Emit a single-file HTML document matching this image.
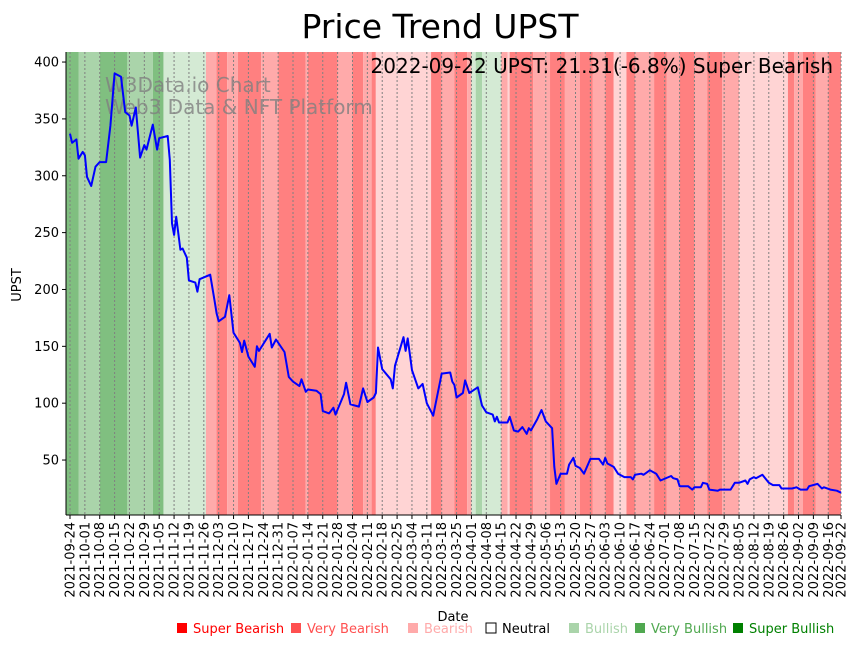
<!DOCTYPE html>
<html><head><meta charset="utf-8"><style>
body{margin:0;background:#fff;}
svg{display:block;font-family:"DejaVu Sans","Liberation Sans",sans-serif;}
</style></head><body>
<svg id="chart" width="859" height="646" viewBox="0 0 859 646">
<text x="440" y="38" text-anchor="middle" font-size="33" fill="#000">Price Trend UPST</text>
<g id="bands"></g>
<g id="grid"></g>
<text x="105" y="92" font-size="20" fill="#808080" fill-opacity="0.8">W3Data.io Chart</text>
<text x="105" y="114" font-size="20" fill="#808080" fill-opacity="0.8">Web3 Data &amp; NFT Platform</text>
<path id="line" fill="none" stroke="#0000ff" stroke-width="2" stroke-linejoin="round"/>
<text x="833" y="73" text-anchor="end" font-size="20" fill="#000">2022-09-22 UPST: 21.31(-6.8%) Super Bearish</text>
<g id="yaxis"></g>
<g id="xaxis"></g>
<line x1="66" y1="52" x2="66" y2="515" stroke="#000" stroke-width="1"/>
<line x1="66" y1="515" x2="841" y2="515" stroke="#000" stroke-width="1"/>
<text transform="translate(21,285) rotate(-90)" text-anchor="middle" font-size="13">UPST</text>
<text x="453" y="621" text-anchor="middle" font-size="13">Date</text>
<g id="legend"></g>
</svg>
<script>
// price data: day offsets since 2021-09-24 and prices
const days=[0,1,3,4,6,7,8,10,12,14,17,19,21,24,26,28,29,31,33,35,36,39,41,42,46,47,48,49,50,52,53,55,56,59,60,61,66,68,69,70,73,75,77,80,81,82,84,87,88,89,94,95,97,101,103,105,108,109,111,112,116,118,119,122,124,125,129,130,132,136,138,140,143,144,145,147,151,152,153,157,158,159,161,164,166,168,171,175,179,180,181,182,185,186,188,192,194,196,199,200,201,202,206,207,209,211,213,215,216,217,220,222,224,227,228,229,231,234,235,237,238,240,242,245,249,251,252,253,256,258,261,264,265,266,269,270,273,276,278,283,284,286,287,291,293,294,297,298,300,301,305,306,311,313,315,318,319,320,322,323,326,329,331,334,335,340,342,344,347,348,352,354,355,358,361,363];
const prices=[337,329,332,315,321,318,299,291,308,312,312,344,390,387,356,353,344,360,316,327,323,345,323,333,335,314,258,248,264,235,236,228,208,206,198,209,213,191,179,172,176,195,162,153,145,155,141,132,150,146,161,149,156,145,123,119,115,121,110,112,111,108,93,91,96,90,108,118,99,97,113,101,105,109,149,130,121,113,133,158,146,157,129,113,117,100,89,126,127,119,116,105,109,120,109,114,98,92,90,84,88,83,83,88,76,75,79,73,78,76,86,94,84,78,44,29,38,38,46,52,45,43,38,51,51,46,52,47,44,38,35,35,33,37,38,37,41,38,32,36,34,33,27,27,24,26,26,30,29,24,23,24,24,30,30,32,29,33,35,34,37,30,28,28,25,25,26,24,24,27,29,25,26,24,23,21.31];
// sentiment bands: start day and level
const bandStarts=[-2,4,14,27,39,44,64,69,74,79,90,98,111,112,126,133,138,142,144,170,175,181,187,189,191,194,203,206,207,218,226,233,240,246,252,256,262,266,275,281,287,294,300,307,315,338,341,345,351,357];
const bandLevels=[2,1,2,1,2,0.5,-2,-3,-2,-3,-2,-3,-2,-3,-2,-3,-2,-3,-1,-3,-2,-3,-2,0.5,1,0.5,-2,-1,-3,-2,-3,-2,-3,-2,-3,-1,-3,-2,-3,-2,-3,-2,-3,-2,-1,-3,-2,-3,-2,-3];
const bandEnd=363;
const yTicks=[50,100,150,200,250,300,350,400];
const startDate=new Date(Date.UTC(2021,8,24));
const tickDays=[];for(let d=0;d<=357;d+=7)tickDays.push(d);tickDays.push(363);

const X0=66,X1=841,Y0=52,Y1=515;
const xs=d=>70+d*(771/363);
const ys=v=>516.9-v*(398/350);
const NS="http://www.w3.org/2000/svg";
function mk(t,a,p){const e=document.createElementNS(NS,t);for(const k in a)e.setAttribute(k,a[k]);p.appendChild(e);return e;}
const colors={"3":"#008000","2":"#80bf80","1":"#aad4aa","0.5":"#d4ead4","-1":"#ffd4d4","-2":"#ffaaaa","-3":"#ff8080"};
const bg=document.getElementById('bands');
for(let i=0;i<bandStarts.length;i++){
  const a=Math.max(X0,xs(bandStarts[i])),b=Math.min(X1,xs(i+1<bandStarts.length?bandStarts[i+1]:bandEnd)+ (i+1<bandStarts.length?0:3));
  const r=mk('rect',{x:a,y:Y0,width:Math.max(0,b-a),height:Y1-Y0,fill:colors[String(bandLevels[i])]},bg);
  
  
}
const grid=document.getElementById('grid'),xa=document.getElementById('xaxis');
tickDays.forEach(d=>{
  const x=xs(d);
  const g=mk('line',{x1:x,y1:Y0,x2:x,y2:Y1,stroke:'#808080','stroke-width':1,'stroke-dasharray':'2,2'},grid);
  
  
  mk('line',{x1:x,y1:Y1,x2:x,y2:Y1+4,stroke:'#000'},xa);
  const dt=new Date(startDate.getTime()+d*864e5);
  const s=dt.toISOString().slice(0,10);
  const t=mk('text',{transform:`translate(${x+4.5},${Y1+7}) rotate(-90)`,'text-anchor':'end','font-size':13},xa);
  t.textContent=s;
  
  
});
const ya=document.getElementById('yaxis');
yTicks.forEach(v=>{
  const y=ys(v);
  mk('line',{x1:X0-4,y1:y,x2:X0,y2:y,stroke:'#000'},ya);
  const t=mk('text',{x:X0-7,y:y+4.5,'text-anchor':'end','font-size':13},ya);
  t.textContent=v;
  
  
});
document.getElementById('line').setAttribute('d',days.map((d,i)=>(i?'L':'M')+xs(d).toFixed(1)+','+ys(prices[i]).toFixed(1)).join(''));
const legNames=['Super Bearish','Very Bearish','Bearish','Neutral','Bullish','Very Bullish','Super Bullish'];
const legColors=['#ff0000','#ff5050','#ffaaaa','#ffffff','#aad4aa','#50a850','#008000'];
const legTextColors=['#ff0000','#ff5050','#ffaaaa','#000000','#aad4aa','#50a850','#008000'];
const legX=[177,291,408,486,569,635,733];
const lg=document.getElementById('legend');
legNames.forEach((n,i)=>{
  const r=mk('rect',{x:legX[i],y:623,width:10,height:10,fill:legColors[i],stroke:i==3?'#000':'none','stroke-width':1},lg);
  
  
  const t=mk('text',{x:legX[i]+16,y:633,'font-size':13,fill:legTextColors[i]},lg);
  t.textContent=n;
  
  
});
</script>
</body></html>
